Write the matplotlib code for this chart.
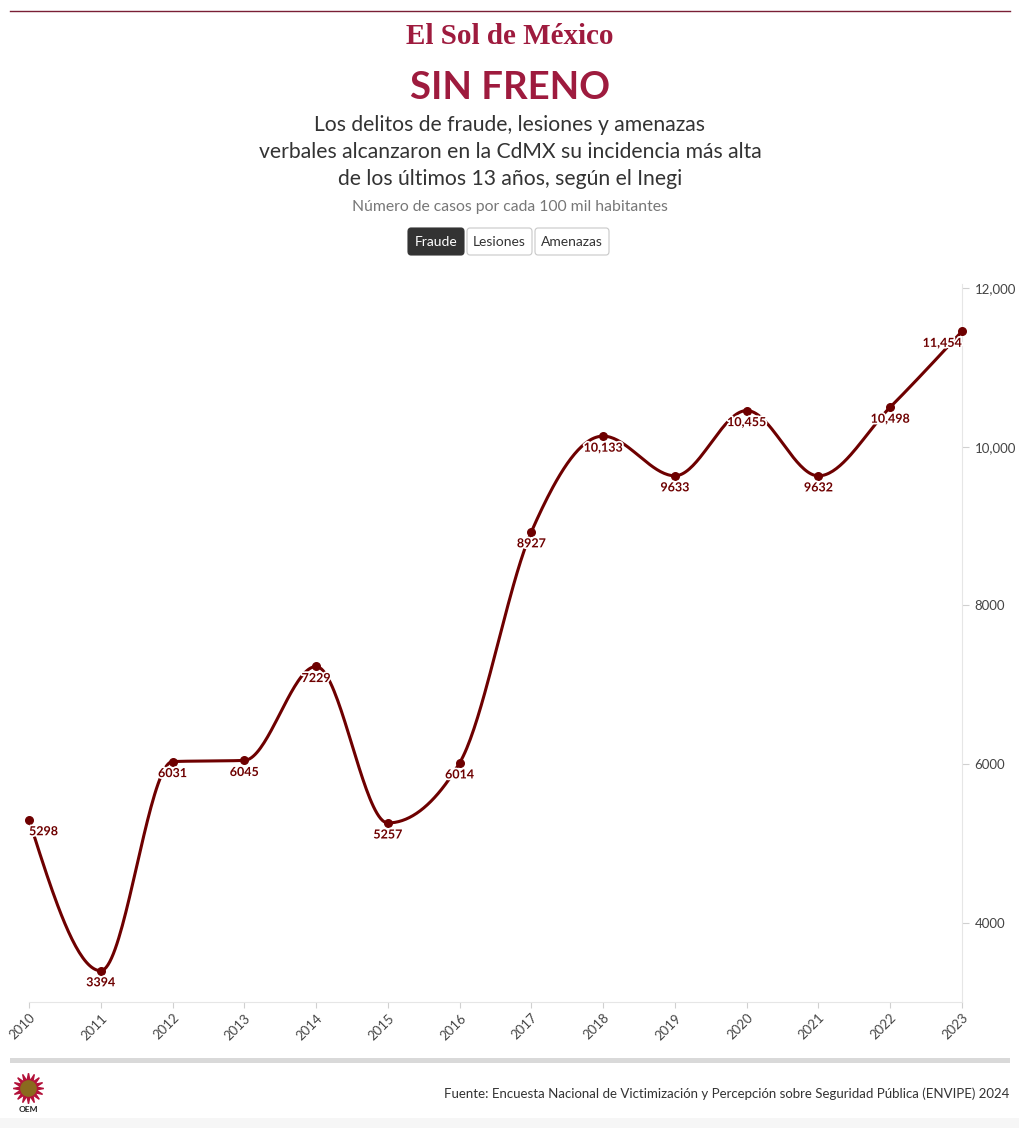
import numpy as np
import matplotlib
matplotlib.use("Agg")
import matplotlib.pyplot as plt
import matplotlib.patheffects as pe
from matplotlib.patches import FancyBboxPatch, Rectangle

years = [2010, 2011, 2012, 2013, 2014, 2015, 2016, 2017, 2018, 2019, 2020, 2021, 2022, 2023]
fraude = [5298, 3394, 6031, 6045, 7229, 5257, 6014, 8927, 10133, 9633, 10455, 9632, 10498, 11454]
point_labels = ["5298", "3394", "6031", "6045", "7229", "5257", "6014", "8927", "10,133", "9633",
                "10,455", "9632", "10,498", "11,454"]
y_ticks = [4000, 6000, 8000, 10000, 12000]
y_tick_labels = ["4000", "6000", "8000", "10,000", "12,000"]
buttons = ["Fraude", "Lesiones", "Amenazas"]

FONT = ["Lato", "DejaVu Sans"]
plt.rcParams["font.family"] = FONT

LINE = "#6e0000"
TITLE = "#9e1b3e"

W, H = 1020, 1128
fig = plt.figure(figsize=(W / 100, H / 100), dpi=100)
fig.patch.set_facecolor("white")


def fx(px):
    return px / W


def fy(py):
    return 1 - py / H


# monotone cubic (d3 monotoneX) for drawing the curve
def monotone(x, y, n=40):
    x = np.asarray(x, float)
    y = np.asarray(y, float)
    h = np.diff(x)
    s = np.diff(y) / h
    m = np.zeros_like(y)
    for i in range(1, len(x) - 1):
        if s[i - 1] * s[i] <= 0:
            m[i] = 0
        else:
            p = (s[i - 1] * h[i] + s[i] * h[i - 1]) / (h[i - 1] + h[i])
            m[i] = (np.sign(s[i - 1]) + np.sign(s[i])) * min(abs(s[i - 1]), abs(s[i]), 0.5 * abs(p))
    m[0] = (3 * s[0] - m[1]) / 2 if len(x) > 2 else s[0]
    m[-1] = (3 * s[-1] - m[-2]) / 2
    xs, ys = [], []
    for i in range(len(x) - 1):
        t = np.linspace(0, 1, n, endpoint=(i == len(x) - 2))
        h00 = 2 * t**3 - 3 * t**2 + 1
        h10 = t**3 - 2 * t**2 + t
        h01 = -2 * t**3 + 3 * t**2
        h11 = t**3 - t**2
        xs.append(x[i] + t * h[i])
        ys.append(h00 * y[i] + h10 * h[i] * m[i] + h01 * y[i + 1] + h11 * h[i] * m[i + 1])
    return np.concatenate(xs), np.concatenate(ys)


# top rule
fig.add_artist(plt.Line2D([fx(10), fx(1010)], [fy(11), fy(11)], color="#7a1f35", lw=1))

# masthead
fig.text(0.5, fy(36), "El Sol de México", ha="center", va="center", fontsize=21,
         family=["Liberation Serif", "DejaVu Serif"], fontweight="bold", color=TITLE)

fig.text(0.5, fy(88), "SIN FRENO", ha="center", va="center", fontsize=27.5, fontweight="bold", color=TITLE)
subtitle_lines = ["Los delitos de fraude, lesiones y amenazas",
                  "verbales alcanzaron en la CdMX su incidencia más alta",
                  "de los últimos 13 años, según el Inegi"]
for k, line in enumerate(subtitle_lines):
    fig.text(0.5, fy(125 + 27 * k), line, ha="center", va="center", fontsize=15.2, color="#333333")
fig.text(0.5, fy(207), "Número de casos por cada 100 mil habitantes", ha="center", va="center",
         fontsize=11.3, color="#777777")

# buttons
bx = [(408, 464), (467, 532), (535, 609)]
for (x0, x1), lab in zip(bx, buttons):
    active = lab == "Fraude"
    r = FancyBboxPatch((fx(x0), fy(255)), fx(x1 - x0), (27) / H,
                       boxstyle="round,pad=0,rounding_size=0.003", transform=fig.transFigure,
                       facecolor="#333333" if active else "white",
                       edgecolor="#333333" if active else "#c8c8c8", lw=0.8)
    fig.add_artist(r)
    fig.text(fx((x0 + x1) / 2), fy(242), lab, ha="center", va="center", fontsize=10,
             color="white" if active else "#333333")

# chart axes
ax = fig.add_axes([fx(29), fy(1002), fx(962 - 29), (1002 - 288) / H])
ax.set_xlim(2010, 2023)
ax.set_ylim(3000, 12000)
cx, cy = monotone(years, fraude)
ax.plot(cx, cy, color=LINE, lw=2.2, solid_capstyle="round", clip_on=False, zorder=3)
ax.scatter(years, fraude, s=30, color=LINE, zorder=4, clip_on=False)
for i, (x, y, lab) in enumerate(zip(years, fraude, point_labels)):
    ha = "left" if i == 0 else ("right" if i == len(years) - 1 else "center")
    ax.annotate(lab, (x, y), xytext=(0, -4), textcoords="offset points", ha=ha, va="top",
                fontsize=9, fontweight="bold", color=LINE, zorder=5,
                path_effects=[pe.withStroke(linewidth=2.5, foreground="white")])

for s in ["top", "left"]:
    ax.spines[s].set_visible(False)
ax.spines["right"].set_color("#e6e6e6")
ax.spines["bottom"].set_color("#e6e6e6")
ax.spines["right"].set_bounds(3000, 12050)
ax.yaxis.tick_right()
ax.set_yticks(y_ticks)
ax.set_yticklabels(y_tick_labels)
ax.tick_params(axis="y", length=5, color="#d0d0d0", labelsize=9.5, labelcolor="#444444", pad=4)
ax.set_xticks(years)
ax.set_xticklabels([str(y) for y in years], rotation=45, ha="right", rotation_mode="anchor")
ax.tick_params(axis="x", length=4, color="#d0d0d0", labelsize=9.5, labelcolor="#444444", pad=3)
ax.set_facecolor("none")

# footer
fig.add_artist(Rectangle((fx(10), fy(1063)), fx(1000), 5 / H, transform=fig.transFigure,
                         facecolor="#d9d9d9", edgecolor="none"))
fig.add_artist(Rectangle((0, 0), 1, 10 / H, transform=fig.transFigure,
                         facecolor="#f6f6f6", edgecolor="none"))
fig.text(fx(1009), fy(1094), "Fuente: Encuesta Nacional de Victimización y Percepción sobre Seguridad Pública (ENVIPE) 2024",
         ha="right", va="center", fontsize=9.5, color="#333333")
# OEM emblem
fig.add_artist(plt.Line2D([fx(28)], [fy(1088)], marker=(16, 1, 0), markersize=22,
                          color="#b3123a", transform=fig.transFigure))
fig.add_artist(plt.Line2D([fx(28)], [fy(1088)], marker="o", markersize=11,
                          color="#8a6a1e", transform=fig.transFigure))
fig.text(fx(28), fy(1109), "OEM", ha="center", va="center", fontsize=6, fontweight="bold", color="#222222")

fig.savefig("out.png", dpi=100, facecolor="white")
